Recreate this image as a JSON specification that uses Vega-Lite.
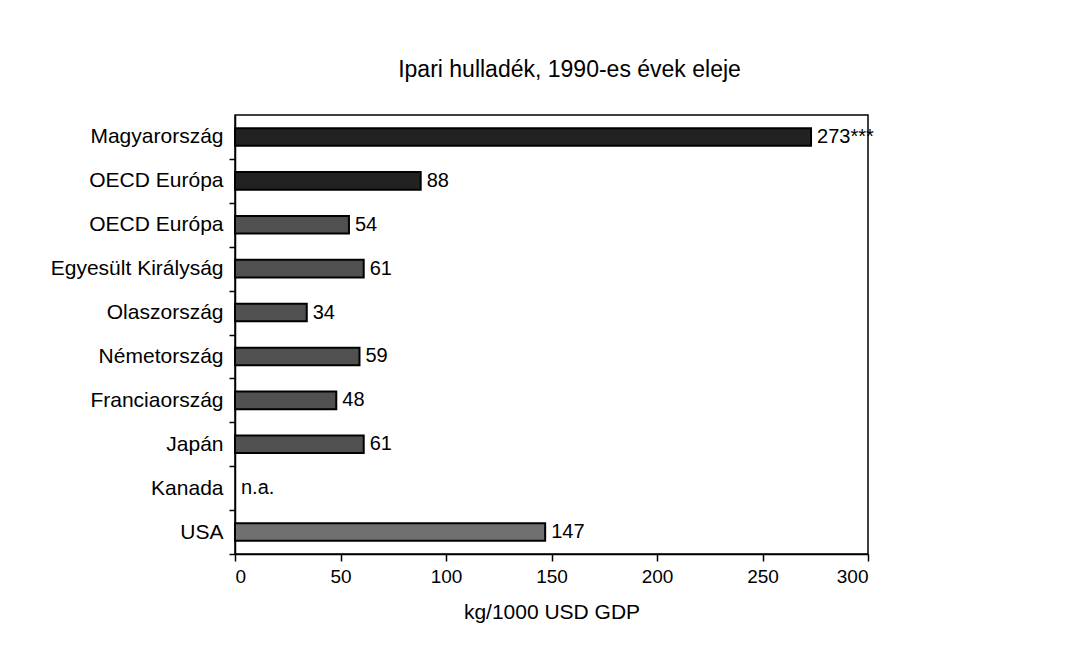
{
  "$schema": "https://vega.github.io/schema/vega-lite/v6.json",
  "width": 633,
  "height": 439,
  "autosize": {"type": "none"},
  "padding": {"left": 235, "top": 115, "right": 224, "bottom": 106},
  "background": "white",
  "config": {
    "font": "Liberation Sans",
    "view": {"stroke": "black", "strokeWidth": 1.5},
    "axis": {"grid": false, "domainColor": "black", "tickColor": "black", "labelColor": "black", "titleColor": "black", "labelFont": "Liberation Sans", "titleFont": "Liberation Sans", "domainWidth": 1.5, "tickWidth": 1.5}
  },
  "title": {"text": "Ipari hulladék, 1990-es évek eleje", "fontSize": 23, "font": "Liberation Sans", "fontWeight": "normal", "color": "black", "offset": 33, "anchor": "middle", "dx": 18},
  "data": {
    "values": [
      {"country": "Magyarország", "key": "1", "value": 273, "label": "273***", "shade": "dark"},
      {"country": "OECD Európa", "key": "2", "value": 88, "label": "88", "shade": "dark"},
      {"country": "OECD Európa", "key": "3", "value": 54, "label": "54", "shade": "mid"},
      {"country": "Egyesült Királyság", "key": "4", "value": 61, "label": "61", "shade": "mid"},
      {"country": "Olaszország", "key": "5", "value": 34, "label": "34", "shade": "mid"},
      {"country": "Németország", "key": "6", "value": 59, "label": "59", "shade": "mid"},
      {"country": "Franciaország", "key": "7", "value": 48, "label": "48", "shade": "mid"},
      {"country": "Japán", "key": "8", "value": 61, "label": "61", "shade": "mid"},
      {"country": "Kanada", "key": "9", "value": null, "label": "n.a.", "shade": "mid"},
      {"country": "USA", "key": "10", "value": 147, "label": "147", "shade": "light"}
    ]
  },
  "encoding": {
    "y": {
      "field": "key",
      "type": "nominal",
      "sort": ["1", "2", "3", "4", "5", "6", "7", "8", "9", "10"],
      "scale": {"domain": ["1", "2", "3", "4", "5", "6", "7", "8", "9", "10"], "paddingInner": 0.6, "paddingOuter": 0.3},
      "axis": {
        "title": null,
        "labelExpr": "['','Magyarország','OECD Európa','OECD Európa','Egyesült Királyság','Olaszország','Németország','Franciaország','Japán','Kanada','USA'][+datum.value]",
        "labelFontSize": 21,
        "labelPadding": 6,
        "tickSize": 6,
        "bandPosition": 0.5,
        "tickOffset": 22,
        "labelOffset": -22,
        "ticks": true
      }
    }
  },
  "layer": [
    {
      "mark": {"type": "bar", "stroke": "black", "strokeWidth": 2},
      "encoding": {
        "x": {
          "field": "value",
          "type": "quantitative",
          "scale": {"domain": [0, 300], "nice": false},
          "axis": {"title": "kg/1000 USD GDP", "titleFontSize": 21, "titleFontWeight": "normal", "titlePadding": 15, "labelFontSize": 19, "values": [0, 50, 100, 150, 200, 250, 300], "tickSize": 7, "labelPadding": 6}
        },
        "color": {
          "field": "shade",
          "type": "nominal",
          "scale": {"domain": ["dark", "mid", "light"], "range": ["#222222", "#505050", "#707070"]},
          "legend": null
        }
      }
    },
    {
      "transform": [{"calculate": "isValid(datum.value) ? datum.value : 0", "as": "pos"}],
      "mark": {"type": "text", "align": "left", "baseline": "middle", "dx": 6, "fontSize": 20, "color": "black"},
      "encoding": {
        "x": {"field": "pos", "type": "quantitative"},
        "text": {"field": "label"}
      }
    }
  ]
}
